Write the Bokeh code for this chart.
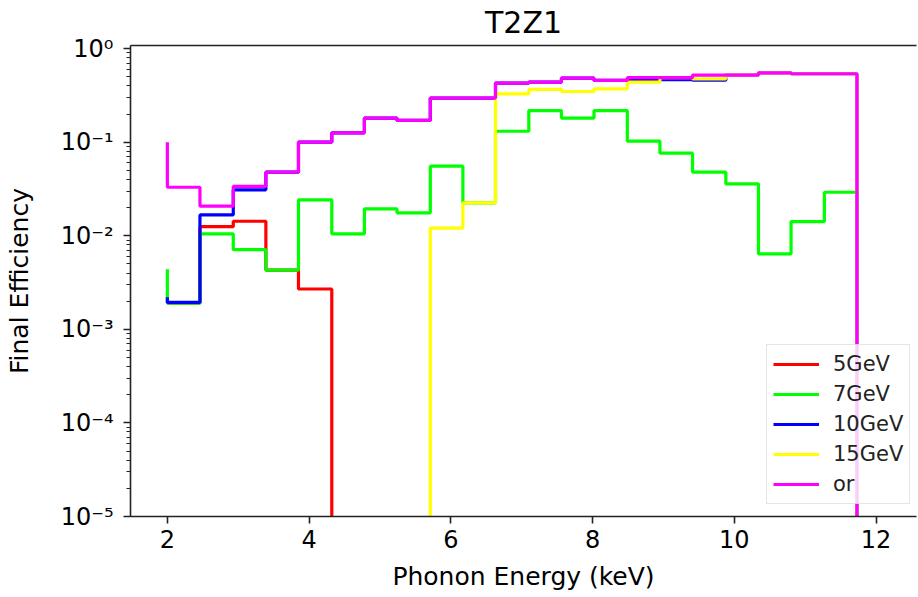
from bokeh.plotting import figure
from bokeh.models import (Range1d, FixedTicker, LinearAxis, CustomJSTickFormatter,
                          LogTicker)
from bokeh.embed import file_html
from bokeh.resources import INLINE

# Bin edges (keV); first value of each series sits at x=2, then one value per bin,
# last 0 after the final edge (matplotlib 'pre' step style)
edges = [2.00, 2.46, 2.93, 3.39, 3.85, 4.32, 4.78, 5.24, 5.71, 6.17, 6.63, 7.10,
         7.56, 8.02, 8.49, 8.95, 9.41, 9.88, 10.34, 10.80, 11.27, 11.73, 12.19]

eff_5gev = [0.0019, 0.0019, 0.0125, 0.0143, 0.0043, 0.0027, 0, 0, 0, 0, 0, 0,
            0, 0, 0, 0, 0, 0, 0, 0, 0, 0, 0]
eff_7gev = [0.0044, 0.0019, 0.0105, 0.0071, 0.0043, 0.0242, 0.0105, 0.0194, 0.0176,
            0.0554, 0.0225, 0.131, 0.218, 0.181, 0.218, 0.1025, 0.0763, 0.0478,
            0.0359, 0.0064, 0.0142, 0.0292, 0]
eff_10gev = [0.0022, 0.00194, 0.0167, 0.031, 0.0478, 0.100, 0.126, 0.181, 0.171,
             0.296, 0.296, 0.428, 0.438, 0.483, 0.457, 0.465, 0.465, 0.46,
             0.521, 0.552, 0.539, 0.539, 0]
eff_15gev = [0, 0, 0, 0, 0, 0, 0, 0, 0, 0.0121, 0.0225, 0.329, 0.366, 0.348, 0.372,
             0.438, 0.489, 0.476, 0.521, 0.552, 0.539, 0.539, 0]
eff_or = [0.100, 0.033, 0.0207, 0.0338, 0.0478, 0.100, 0.126, 0.181, 0.171,
          0.296, 0.296, 0.428, 0.438, 0.483, 0.457, 0.489, 0.489, 0.521,
          0.521, 0.552, 0.539, 0.539, 0]

series = [("5GeV", eff_5gev, "#ff0000"),
          ("7GeV", eff_7gev, "#00ff00"),
          ("10GeV", eff_10gev, "#0000ff"),
          ("15GeV", eff_15gev, "#ffff00"),
          ("or", eff_or, "#ff00ff")]

FONT = "DejaVu Sans"

p = figure(width=918, height=597, output_backend="svg", toolbar_location=None,
           y_axis_type="log", x_range=Range1d(1.48, 12.57), y_range=Range1d(1e-5, 1.08),
           title="T2Z1", min_border_left=130, min_border_right=2,
           min_border_top=45, min_border_bottom=81)
p.outline_line_color = None
p.grid.visible = False
p.background_fill_color = "white"
p.border_fill_color = "white"

p.title.align = "center"
p.title.vertical_align = "top"
p.title.text_font = FONT
p.title.text_font_size = "30px"
p.title.text_font_style = "normal"
p.title.text_color = "black"
p.title.standoff = 8

FLOOR = 1e-9
for name, vals, col in series:
    yv = [v if v > 0 else FLOOR for v in vals]
    p.step(edges, yv, mode="before", line_color=col, line_width=3.2, legend_label=name)

# x axis
xa = p.xaxis[0]
xa.ticker = FixedTicker(ticks=[2, 4, 6, 8, 10, 12])
xa.axis_label = "Phonon Energy (keV)"
# y axis
ya = p.yaxis[0]
ya.ticker = LogTicker(num_minor_ticks=10)
ya.axis_label = "Final Efficiency"
ya.formatter = CustomJSTickFormatter(code="""
const e = Math.round(Math.log10(tick));
const sup = {'-':'\u207b','0':'\u2070','1':'\u00b9','2':'\u00b2','3':'\u00b3','4':'\u2074','5':'\u2075','6':'\u2076','7':'\u2077','8':'\u2078','9':'\u2079'};
return '10' + String(e).split('').map(c => sup[c]).join('');
""")

for ax in (xa, ya):
    ax.axis_line_color = "#222222"
    ax.axis_line_width = 1.6
    ax.major_tick_line_color = "#222222"
    ax.major_tick_line_width = 1.6
    ax.minor_tick_line_color = "#222222"
    ax.minor_tick_line_width = 1.2
    ax.major_tick_out = 7
    ax.major_tick_in = 0
    ax.minor_tick_out = 4
    ax.minor_tick_in = 0
    ax.major_label_text_font = FONT
    ax.major_label_text_font_size = "24px"
    ax.major_label_text_color = "black"
    ax.axis_label_text_font = FONT
    ax.axis_label_text_font_size = "25px"
    ax.axis_label_text_font_style = "normal"
    ax.axis_label_text_color = "black"
xa.minor_tick_line_color = None
xa.major_label_standoff = 6
xa.axis_label_standoff = 11
ya.major_label_standoff = 10
ya.axis_label_standoff = 24

# top spine (zero-size axis panel)
top = LinearAxis(ticker=FixedTicker(ticks=[]), major_label_text_font_size="0px",
                 axis_line_color="#222222", axis_line_width=1.6,
                 major_tick_line_color=None, minor_tick_line_color=None,
                 major_tick_out=0, major_tick_in=0, minor_tick_out=0, minor_tick_in=0,
                 major_label_standoff=0, axis_label_standoff=0)
p.add_layout(top, "above")

leg = p.legend[0]
leg.location = (636, 12)
leg.label_text_font = FONT
leg.label_text_font_size = "21px"
leg.label_text_color = "#222222"
leg.glyph_width = 46
leg.glyph_height = 26
leg.label_height = 26
leg.label_standoff = 14
leg.spacing = 4
leg.padding = 6
leg.margin = 0
leg.border_line_color = "#cccccc"
leg.border_line_width = 1.5
leg.background_fill_color = "white"
leg.background_fill_alpha = 0.8

open("out.html", "w").write(file_html(p, INLINE))
